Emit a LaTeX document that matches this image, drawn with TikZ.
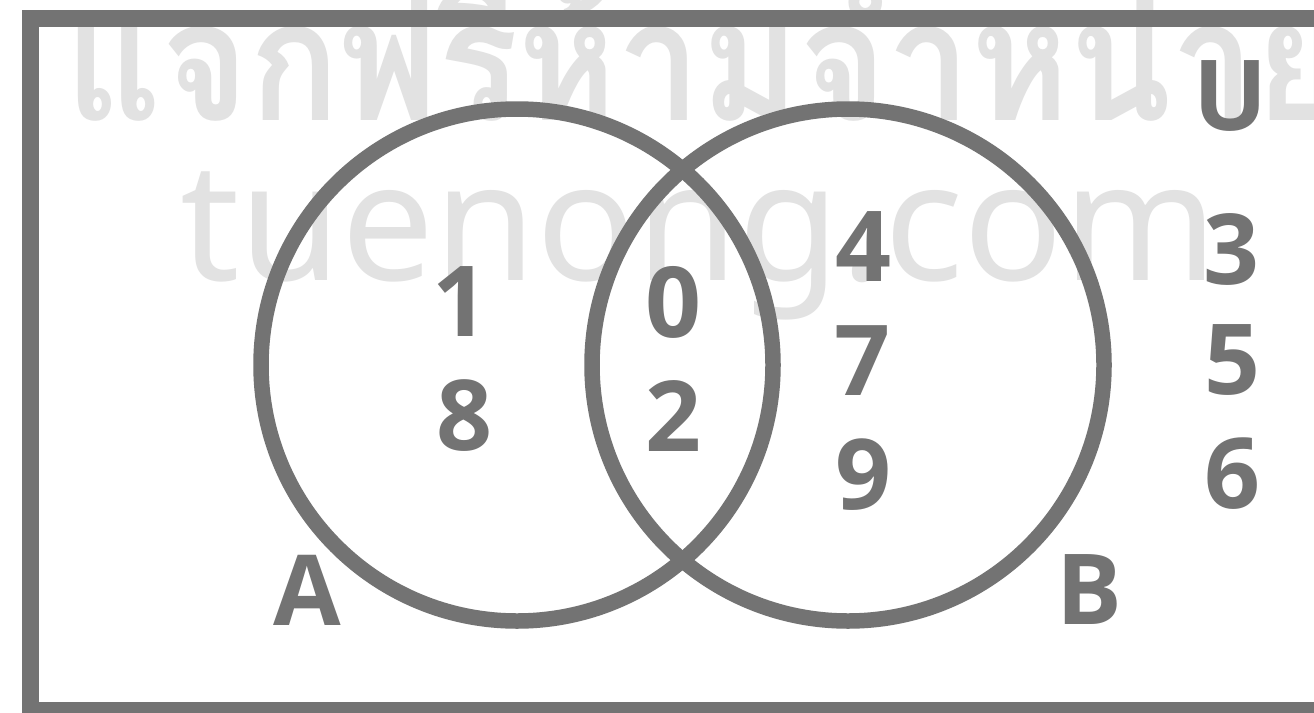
\documentclass[tikz,border=0pt]{standalone}
\usepackage{fontspec}
\setmainfont{Noto Sans}
\newfontfamily\numfont{Open Sans}
\newfontfamily\thaifont[Script=Thai]{Loma}
\definecolor{dg}{HTML}{737373}
\definecolor{wm}{HTML}{E2E2E2}
\begin{document}
\begin{tikzpicture}[x=1pt,y=-1pt,
  num/.style={text=dg, font=\numfont\bfseries\fontsize{98}{98}\selectfont, inner sep=0pt},
  ring/.style={circle, draw=dg, line width=15.5pt, minimum size=512pt, inner sep=0pt},
  wmark/.style={text=wm, inner sep=0pt, anchor=base west}]
\useasboundingbox (0,0) rectangle (1314,712);
\clip (0,0) rectangle (1314,712);
\fill[white] (0,0) rectangle (1314,712);
% watermarks
\node[wmark, font=\thaifont\bfseries\fontsize{168}{168}\selectfont] (wth) at (65,120) {\scalebox{0.89}[1]{แจกฟรีห้ามจำหน่าย}};
\node[wmark, font=\fontsize{165}{165}\selectfont] (wen) at (180,280) {tuenong.com};
% frame
\draw[dg, line width=17pt] (30.5,18.5) rectangle (1340,710.5);
% circles
\node[ring] (cA) at (517,365) {};
\node[ring] (cB) at (848,365) {};
% labels
\node[num] (U) at (1231,96) {U};
\node[num] (lA) at (307,590) {A};
\node[num] (lB) at (1089,590) {B};
% elements
\node[num] (n1) at (460,302) {1};
\node[num] (n8) at (464,416) {8};
\node[num] (n0) at (673,302) {0};
\node[num] (n2) at (673,416) {2};
\node[num] (n4) at (863,247) {4};
\node[num] (n7) at (862,361) {7};
\node[num] (n9) at (863,475) {9};
\node[num] (n3) at (1231,249) {3};
\node[num] (n5) at (1232,360) {5};
\node[num] (n6) at (1232,474) {6};
\end{tikzpicture}
\end{document}
